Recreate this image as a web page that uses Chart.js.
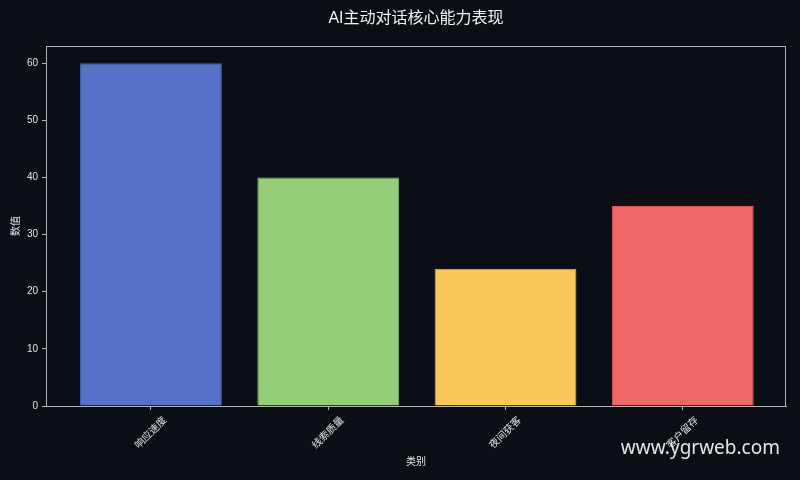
<!DOCTYPE html>
<html>
<head>
<meta charset="utf-8">
<script src="https://cdn.jsdelivr.net/npm/chart.js@4/dist/chart.umd.min.js"></script>
<style>
    html, body { margin: 0; padding: 0; background: #0b0e14; }
    #wrap { position: relative; width: 800px; height: 480px; }
    #watermark {
        position: absolute; right: 20px; top: 434px;
        font: 19px "Noto Sans", "Open Sans", sans-serif; color: #e6e6e6;
    }
</style>
</head>
<body>
<div id="wrap">
    <canvas id="chart" width="800" height="480"></canvas>
    <div id="watermark">www.ygrweb.com</div>
</div>
<script>
const chartTitle = "AI主动对话核心能力表现";
const categories = ["响应速度", "线索质量", "夜间获客", "客户留存"];
const values = [60, 40, 24, 35];
const barColors = ["#5572c8", "#93cd77", "#fac85a", "#ef6768"];
const edgeColors = ["#4760ad", "#7fb566", "#dcb04e", "#d25a5b"];
const yTicks = [0, 10, 20, 30, 40, 50, 60];

const textColor = "#e4e4e4";
const spineColor = "#b4b4b4";
const fontFamily = '"Liberation Sans", "Noto Sans CJK SC", sans-serif';

// box round the plot, title over the plot, centred rotated category labels
const framePlugin = {
    id: "frame",
    afterDraw(chart) {
        const ctx = chart.ctx;
        const area = chart.chartArea;
        ctx.save();
        ctx.strokeStyle = spineColor;
        ctx.lineWidth = 1;
        ctx.strokeRect(area.left + 0.5, area.top + 0.5, area.right - area.left - 1, area.bottom - area.top);

        ctx.fillStyle = "#f2f2f2";
        ctx.font = "16px " + fontFamily;
        ctx.textAlign = "center";
        ctx.textBaseline = "middle";
        ctx.fillText(chartTitle, (area.left + area.right) / 2, 19);

        const x = chart.scales.x;
        ctx.fillStyle = textColor;
        ctx.font = "10px " + fontFamily;
        categories.forEach((label, i) => {
            ctx.save();
            ctx.translate(x.getPixelForValue(i), area.bottom + 27);
            ctx.rotate(-Math.PI / 4);
            ctx.fillText(label, 0, 0);
            ctx.restore();
        });
        ctx.restore();
    },
};

new Chart(document.getElementById("chart"), {
    type: "bar",
    data: {
        datasets: [
            {
                data: values.map((v, i) => ({ x: i, y: v })),
                backgroundColor: barColors,
                borderColor: edgeColors,
                borderWidth: 1,
                barPercentage: 0.8,
                categoryPercentage: 1,
            },
        ],
    },
    options: {
        responsive: false,
        animation: false,
        devicePixelRatio: 1,
        layout: { padding: { left: 0, right: 14, top: 46, bottom: 0 } },
        plugins: {
            legend: { display: false },
            tooltip: { enabled: false },
            title: { display: false },
        },
        scales: {
            x: {
                type: "linear",
                min: -0.592,
                max: 3.582,
                offset: false,
                afterBuildTicks: (axis) => {
                    axis.ticks = categories.map((c, i) => ({ value: i }));
                },
                afterFit: (axis) => {
                    axis.height = 74;
                },
                ticks: {
                    color: "rgba(0,0,0,0)",
                    maxRotation: 0,
                    font: { size: 10, family: fontFamily },
                    callback: (v) => "",
                },
                grid: { display: true, offset: false, drawOnChartArea: false, drawTicks: true, tickLength: 4, color: spineColor },
                border: { display: true, color: spineColor },
                title: {
                    display: true,
                    text: "类别",
                    color: textColor,
                    font: { size: 10, family: fontFamily },
                    padding: { top: 0, bottom: 12 },
                },
            },
            y: {
                min: 0,
                max: 63,
                afterBuildTicks: (axis) => {
                    axis.ticks = yTicks.map((v) => ({ value: v }));
                },
                afterFit: (axis) => {
                    axis.width = 46;
                },
                ticks: {
                    color: textColor,
                    padding: 4,
                    font: { size: 10, family: fontFamily },
                },
                grid: { display: true, drawOnChartArea: false, drawTicks: true, tickLength: 4, color: spineColor },
                border: { display: true, color: spineColor },
                title: {
                    display: true,
                    text: "数值",
                    color: textColor,
                    font: { size: 10, family: fontFamily },
                    padding: { top: 10, bottom: 0 },
                },
            },
        },
    },
    plugins: [framePlugin],
});
</script>
</body>
</html>
